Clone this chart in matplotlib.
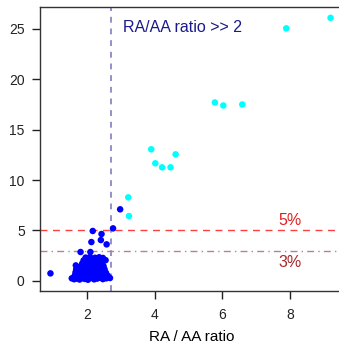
import matplotlib
matplotlib.use("Agg")
import matplotlib.pyplot as plt

plt.rcParams['font.family'] = ['Liberation Sans', 'DejaVu Sans']

# Points with ratio > threshold and high percentage (cyan)
hi_x = [9.20, 7.89, 5.78, 6.03, 6.59, 3.90, 4.62, 4.02, 4.22, 4.47, 3.22, 3.24]
hi_y = [26.1, 25.06, 17.7, 17.4, 17.5, 13.05, 12.55, 11.66, 11.26, 11.26, 8.28, 6.42]

# Remaining points (blue)
lo_x = [2.98, 2.77, 2.17, 2.43, 2.41, 2.13, 2.58, 1.81, 2.10, 0.92, 1.55, 2.68,
        1.62, 1.70, 1.78, 1.87, 1.94, 2.03, 2.12, 2.21, 2.30, 2.38, 2.47, 2.57,
        1.64, 1.73, 1.83, 1.91, 2.01, 2.09, 2.18, 2.27, 2.36, 2.44, 2.53, 2.61,
        1.66, 1.76, 1.85, 1.96, 2.05, 2.14, 2.24, 2.33, 2.42, 2.51, 2.56,
        1.68, 1.79, 1.89, 1.98, 2.07, 2.17, 2.26, 2.36, 2.46, 2.52,
        1.67, 1.81, 1.91, 2.01, 2.11, 2.21, 2.31, 2.40, 2.49,
        1.86, 1.95, 2.06, 2.16, 2.26, 2.35, 2.45,
        1.90, 2.01, 2.11, 2.21, 2.31, 2.42, 2.55,
        1.96, 2.09, 2.24, 2.36, 2.47]
lo_y = [7.09, 5.20, 4.94, 4.64, 4.04, 3.84, 3.61, 2.85, 2.85, 0.73, 0.24, 0.27,
        0.15, 0.22, 0.12, 0.25, 0.18, 0.10, 0.28, 0.14, 0.21, 0.30, 0.16, 0.24,
        0.52, 0.45, 0.58, 0.49, 0.55, 0.42, 0.60, 0.47, 0.53, 0.44, 0.57, 0.50,
        0.83, 0.78, 0.88, 0.75, 0.85, 0.80, 0.90, 0.77, 0.86, 0.81, 0.79,
        1.12, 1.05, 1.15, 1.08, 1.18, 1.02, 1.10, 1.16, 1.07, 1.13,
        1.52, 1.40, 1.45, 1.38, 1.48, 1.42, 1.50, 1.36, 1.44,
        1.72, 1.68, 1.76, 1.70, 1.78, 1.66, 1.74,
        2.02, 1.98, 2.05, 2.00, 2.08, 1.96, 2.04,
        2.30, 2.35, 2.28, 2.33, 2.26]

ratio_threshold = 2.7
pct5 = 5
pct3 = 3
xticks = [2, 4, 6, 8]
yticks = [0, 5, 10, 15, 20, 25]

fig = plt.figure(figsize=(3.39, 3.47), dpi=100)
ax = fig.add_axes([40/339, 1-291/347, 302.4/339, (291-7)/347])

ax.scatter(lo_x, lo_y, s=22, color='#0000FF', edgecolors='none', zorder=3)
ax.scatter(hi_x, hi_y, s=22, color='#00FFFF', edgecolors='none', zorder=3)

ax.axvline(ratio_threshold, color='#7F7FC0', lw=1.2, ls=(0, (3.5, 3.5)), zorder=2)
ax.axhline(pct5, color='#FF4040', lw=1.0, ls=(0, (5, 4)), zorder=2)
ax.axhline(pct3, color='#C08080', lw=1.0, ls=(0, (5, 3, 1, 3)), zorder=2)

ax.text(3.06, 25.1, 'RA/AA ratio >> 2', color='#1A1A8C', fontsize=11.5, va='center', ha='left')
ax.text(8.0, 5.95, '5%', color='#E02020', fontsize=11.5, va='center', ha='center')
ax.text(8.0, 1.85, '3%', color='#A52A2A', fontsize=11.5, va='center', ha='center')

ax.set_xlim(0.611, 9.55)
ax.set_ylim(-1.02, 27.18)
ax.set_xticks(xticks)
ax.set_yticks(yticks)
ax.tick_params(direction='out', length=6, width=1, labelsize=10, pad=6, colors='#222222')
ax.tick_params(axis='y', pad=5)
for sp in ax.spines.values():
    sp.set_color('#333333')
    sp.set_linewidth(1.0)

ax.set_xlabel('RA / AA ratio', fontsize=11, labelpad=6)

fig.savefig('out.png', dpi=100)
